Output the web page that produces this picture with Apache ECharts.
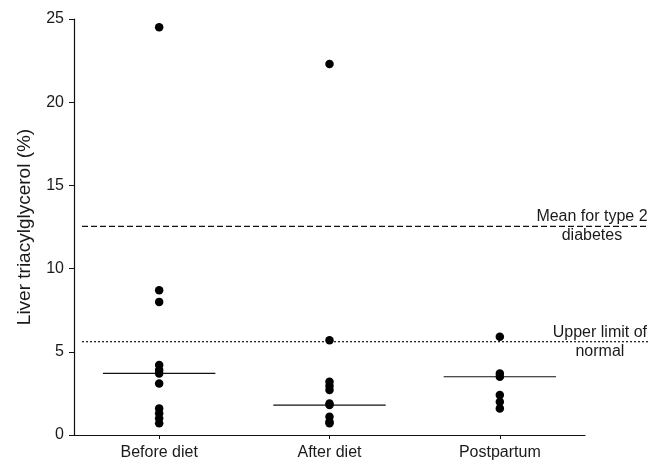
<!DOCTYPE html>
<html>
<head>
<meta charset="utf-8">
<script src="https://cdn.jsdelivr.net/npm/echarts@6/dist/echarts.min.js"></script>
<style>html,body{margin:0;padding:0;background:#fff;}#c{width:660px;height:461px;}</style>
</head>
<body>
<div id="c"></div>
<script>
var categories = ['Before diet', 'After diet', 'Postpartum'];
var beforeDiet = [24.5, 8.7, 8.0, 4.2, 3.9, 3.7, 3.1, 1.6, 1.3, 1.0, 0.7];
var afterDiet = [22.3, 5.7, 3.2, 2.95, 2.7, 1.9, 1.8, 1.1, 0.8, 0.7];
var postpartum = [5.9, 3.7, 3.5, 2.4, 2.0, 1.6];
var medians = [3.7, 1.8, 3.5];
var diabetesMean = 12.6;
var upperLimit = 5.7;
var yTicks = [0, 5, 10, 15, 20, 25];
var refLabels = ['Mean for type 2\ndiabetes', 'Upper limit of\nnormal'];

var FONT = "'Liberation Sans', Arial, Helvetica, sans-serif";
var groups = [beforeDiet, afterDiet, postpartum];
var points = [];
groups.forEach(function (g, i) { g.forEach(function (v) { points.push([categories[i], v]); }); });

var MED_HALF = 0.33;
var medianSeries = medians.map(function (m, i) {
  return {
    type: 'line', xAxisIndex: 1, yAxisIndex: 0, symbol: 'none', silent: true,
    lineStyle: { color: '#111', width: 1.2 },
    data: [[i + 0.5 - MED_HALF, m], [i + 0.5 + MED_HALF, m]], z: 2
  };
});

var LABEL_POS = [0.901, 0.915];
var refVals = [diabetesMean, upperLimit];
var refTypes = [[6, 3], [2, 2]];
var refSeries = refVals.map(function (v, i) {
  return {
    type: 'line', xAxisIndex: 2, yAxisIndex: 1, symbol: 'none', silent: true,
    lineStyle: { color: '#111', width: 1.2, type: refTypes[i] },
    data: [[0, v], [1, v]], z: 1
  };
});
var labelSeries = {
  type: 'scatter', xAxisIndex: 2, yAxisIndex: 1, symbolSize: 0, silent: true,
  itemStyle: { opacity: 1, color: '#111' },
  data: refVals.map(function (v, i) { return { value: [LABEL_POS[i], v], name: refLabels[i] }; }),
  label: {
    show: true, position: 'inside', formatter: function (p) { return p.name; },
    fontSize: 16, color: '#1a1a1a', fontFamily: FONT, lineHeight: 19, align: 'center',
    textBorderWidth: 0, opacity: 1
  }
};

var chart = echarts.init(document.getElementById('c'), null, { renderer: 'canvas' });
chart.setOption({
  animation: false,
  backgroundColor: '#fff',
  grid: [
    { left: 74, right: 75, top: 19, bottom: 24 },
    { left: 82, right: 12, top: 19, bottom: 24 }
  ],
  xAxis: [
    {
      type: 'category', gridIndex: 0, data: categories, boundaryGap: true,
      axisLine: { show: true, lineStyle: { color: '#111', width: 1.2 } },
      axisTick: { show: true, alignWithLabel: true, length: 4, lineStyle: { color: '#111' } },
      axisLabel: { fontSize: 16, color: '#1a1a1a', margin: 10, fontFamily: FONT },
      splitLine: { show: false }
    },
    { type: 'value', gridIndex: 0, min: 0, max: 3, show: false },
    { type: 'value', gridIndex: 1, min: 0, max: 1, show: false }
  ],
  yAxis: [
    {
      type: 'value', gridIndex: 0, min: yTicks[0], max: yTicks[yTicks.length - 1], interval: yTicks[1] - yTicks[0],
      name: 'Liver triacylglycerol (%)', nameLocation: 'middle', nameGap: 40,
      nameTextStyle: { fontSize: 19, color: '#1a1a1a', fontFamily: FONT },
      axisLine: { show: true, lineStyle: { color: '#111', width: 1.2 } },
      axisTick: { show: true, length: 5, lineStyle: { color: '#111' } },
      axisLabel: { fontSize: 16, color: '#1a1a1a', margin: 10, fontFamily: FONT },
      splitLine: { show: false }
    },
    { type: 'value', gridIndex: 1, min: 0, max: 25, show: false }
  ],
  series: refSeries.concat(medianSeries).concat([
    labelSeries,
    {
      type: 'scatter', xAxisIndex: 0, yAxisIndex: 0, symbol: 'circle', symbolSize: 8.5,
      itemStyle: { color: '#000', opacity: 1 }, data: points, z: 5
    }
  ])
});
</script>
</body>
</html>
